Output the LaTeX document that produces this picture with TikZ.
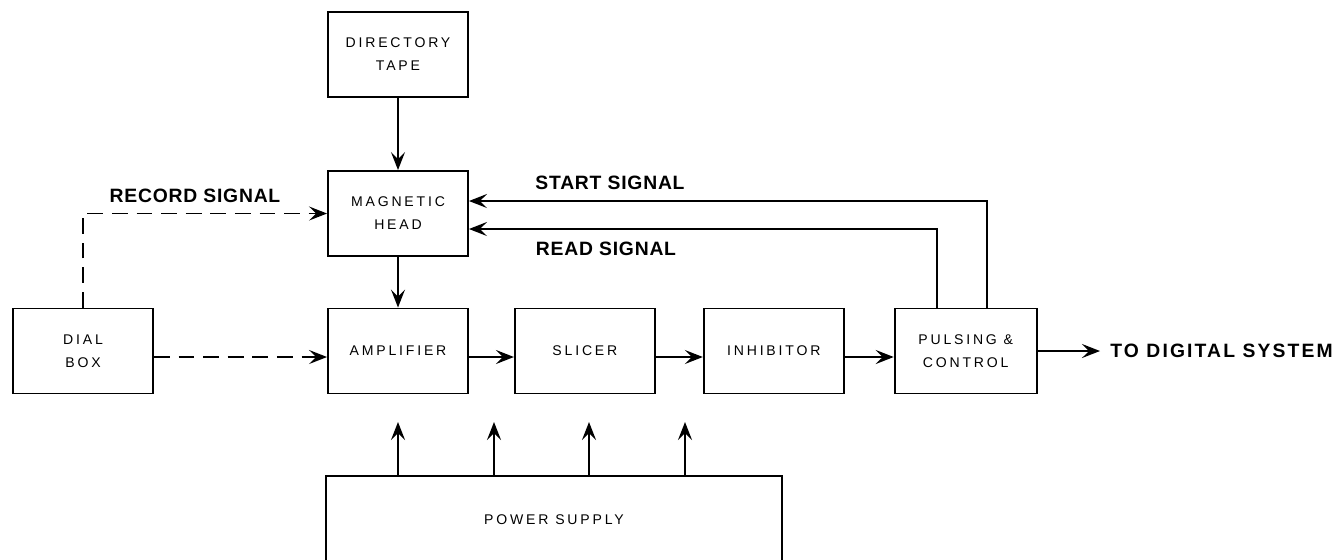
\documentclass[tikz,border=0pt]{standalone}
\usepackage{fontspec}
\setmainfont{Liberation Sans}
\newfontfamily\boxfont[LetterSpace=20]{Liberation Sans}
\newfontfamily\labelfont[LetterSpace=4]{Liberation Sans}
\newfontfamily\widelabelfont[LetterSpace=11]{Liberation Sans}
\usetikzlibrary{positioning,arrows.meta}

\begin{document}
\begin{tikzpicture}[x=0.02cm, y=-0.02cm,
  block/.style={rectangle, draw, line width=1.1pt, align=center, minimum width=2.8cm, minimum height=1.7cm, inner sep=1pt, font=\boxfont\fontsize{8}{13}\selectfont},
  arrow/.style={-{Stealth[length=3.6mm, width=2.8mm, inset=1.4mm]}, line width=1.1pt},
  dasharrow/.style={arrow, dash pattern=on 9pt off 5pt},
  label/.style={font=\labelfont\fontsize{11}{13}\selectfont\bfseries, inner sep=0pt},
]
\useasboundingbox (0,0) rectangle (1337,559);

% === Blocks ===
\node[block] (tape) at (398,54.5) {DIRECTORY\\TAPE};
\node[block] (head) at (398,213.5) {MAGNETIC\\HEAD};
\node[block] (dial) at (83,351) {DIAL\\BOX};
\node[block] (amp) at (398,351) {AMPLIFIER};
\node[block, right=0.9cm of amp] (slicer) {SLICER};
\node[block, right=0.94cm of slicer] (inhib) {INHIBITOR};
\node[block, right=0.98cm of inhib, minimum width=2.84cm] (pulse) {PULSING \&\\CONTROL};
\node[block, minimum width=9.12cm, minimum height=1.76cm] (power) at (554,520) {POWER SUPPLY};

% === Signal path ===
\draw[arrow] (tape) -- (head);
\draw[arrow] (head) -- (amp);
\draw[dasharrow] ([yshift=-0.12cm]dial.east) -- ([yshift=-0.12cm]amp.west);
\draw[arrow] ([yshift=-0.12cm]amp.east) -- ([yshift=-0.12cm]slicer.west);
\draw[arrow] ([yshift=-0.12cm]slicer.east) -- ([yshift=-0.12cm]inhib.west);
\draw[arrow] ([yshift=-0.12cm]inhib.east) -- ([yshift=-0.12cm]pulse.west);

\node[label, font=\widelabelfont\fontsize{11}{13}\selectfont\bfseries, anchor=west] (sys) at (1110,351) {TO DIGITAL SYSTEM};
\draw[arrow] (pulse.east) -- ([xshift=-0.2cm]sys.west);

% === Feedback to head ===
\draw[dasharrow] (dial.north) |- (head.west);
\draw[arrow] ([xshift=0.42cm]pulse.north) |- ([yshift=0.25cm]head.east);
\draw[arrow] ([xshift=-0.58cm]pulse.north) |- ([yshift=-0.31cm]head.east);

\node[label] (record) at (195,196) {RECORD SIGNAL};
\node[label] (start) at (610,183) {START SIGNAL};
\node[label] (read) at (606,249) {READ SIGNAL};

% === Supply feeds ===
\foreach \x [count=\i] in {398,494,589,685} {
  \coordinate (feed\i) at (\x,422);
  \draw[arrow] (power.north -| feed\i) -- (feed\i);
}

\end{tikzpicture}
\end{document}
